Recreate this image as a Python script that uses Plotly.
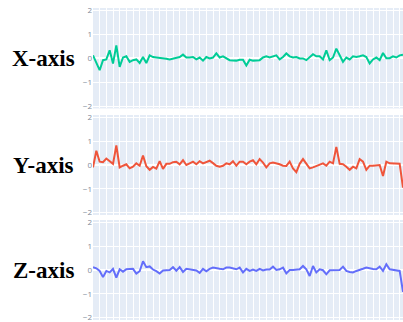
import plotly.graph_objects as go

x_vals = list(range(94))

x_axis_values = [0.12, -0.22, -0.5, -0.08, -0.05, 0.33, -0.22, 0.54, -0.36, 0.03,
                 0.08, -0.15, -0.08, -0.05, -0.2, 0.05, -0.2, 0.12, 0.05, 0.03,
                 0.02, 0.0, -0.02, -0.05, -0.02, 0.0, 0.05, 0.15, 0.03, 0.03,
                 0.05, -0.05, 0.03, -0.1, 0.05, -0.01, 0.03, 0.2, 0.03, 0.08,
                 -0.01, -0.08, -0.09, -0.1, -0.06, -0.06, -0.3, -0.06, -0.1, -0.1,
                 -0.08, 0.03, 0.08, 0.03, 0.08, 0.12, -0.05, 0.05, 0.2, 0.08,
                 0.03, 0.05, -0.01, -0.01, -0.08, 0.03, 0.17, 0.08, 0.08, -0.05,
                 0.33, -0.08, 0.03, 0.4, 0.12, -0.15, 0.03, -0.05, 0.08, 0.05,
                 0.08, 0.12, 0.05, -0.22, -0.05, 0.03, -0.08, 0.22, 0.0, 0.0,
                 0.08, 0.03, 0.12, 0.15]

y_axis_values = [-0.1, 0.6, 0.14, 0.12, 0.27, 0.14, 0.05, 0.82, -0.1, -0.03,
                 0.03, -0.14, -0.07, 0.07, -0.03, 0.4, -0.05, -0.2, -0.08, -0.15,
                 0.16, -0.16, 0.05, 0.05, 0.12, 0.14, 0.03, 0.2, 0.0, 0.07,
                 0.14, 0.03, 0.16, 0.07, 0.12, 0.18, 0.08, -0.03, -0.07, -0.03,
                 0.07, 0.03, 0.16, -0.03, 0.14, 0.14, 0.03, 0.14, 0.2, 0.03,
                 0.25, 0.1, -0.1, 0.07, 0.1, 0.07, 0.03, -0.03, -0.04, 0.14,
                 -0.14, -0.3, 0.05, 0.25, 0.05, -0.14, -0.1, -0.05, 0.0, 0.07,
                 -0.03, 0.14, 0.07, 0.76, 0.05, 0.03, -0.07, -0.2, -0.07, -0.14,
                 0.25, 0.14, -0.2, -0.03, -0.03, -0.03, 0.0, -0.46, 0.14, 0.07,
                 0.07, 0.07, 0.05, -0.95]

z_axis_values = [0.12, 0.07, -0.04, -0.3, -0.04, -0.1, 0.05, -0.32, 0.03, -0.07,
                 0.03, 0.03, 0.05, -0.15, -0.05, 0.37, 0.12, 0.15, 0.02, -0.05,
                 -0.15, -0.02, -0.01, 0.0, 0.12, -0.03, 0.12, -0.08, 0.05, 0.02,
                 0.0, -0.02, -0.12, 0.05, -0.05, 0.05, 0.1, 0.06, 0.05, 0.03,
                 0.1, 0.1, 0.05, 0.03, 0.1, -0.1, 0.05, -0.04, 0.02, -0.04,
                 0.05, -0.02, 0.02, 0.02, 0.14, 0.0, 0.03, 0.1, -0.14, 0.0,
                 0.0, 0.02, 0.03, 0.17, 0.03, -0.25, 0.17, -0.1, 0.03, -0.01,
                 -0.18, -0.01, 0.0, 0.0, 0.0, 0.14, -0.04, -0.08, -0.1, -0.04,
                 0.02, 0.05, 0.1, 0.06, 0.04, 0.03, 0.14, -0.04, 0.24, 0.03,
                 0.0, -0.02, -0.04, -0.92]

tick_values = [-2, -1, 0, 1, 2]

labels = ["X-axis", "Y-axis", "Z-axis"]
colors = ["#00CC96", "#EF553B", "#636EFA"]
series = [x_axis_values, y_axis_values, z_axis_values]

domains = [[0.678, 1.0], [0.3365, 0.657], [0.0, 0.3205]]

fig = go.Figure()
for k in range(3):
    suffix = "" if k == 0 else str(k + 1)
    fig.add_trace(go.Scatter(x=x_vals, y=series[k], mode="lines",
                             line=dict(color=colors[k], width=2),
                             xaxis="x" + suffix, yaxis="y" + suffix,
                             showlegend=False))
    fig.update_layout(**{
        "xaxis" + suffix: dict(domain=[0, 1], anchor="y" + suffix, dtick=2,
                               showticklabels=False, zeroline=False,
                               automargin=False,
                               gridcolor="white", gridwidth=1),
        "yaxis" + suffix: dict(domain=domains[k], anchor="x" + suffix,
                               range=[-2.1, 2.1],
                               tickmode="array", tickvals=tick_values,
                               automargin=False, ticklabeloverflow="allow",
                               tickfont=dict(size=8, color="#7f8a9a"),
                               zeroline=True, zerolinecolor="white",
                               zerolinewidth=2, gridcolor="white"),
    })
    fig.add_annotation(text="<b>%s</b>" % labels[k], x=-0.161, xref="paper",
                       y=0.5, yref="y%s domain" % suffix, showarrow=False,
                       xanchor="center", yanchor="middle",
                       font=dict(family="Liberation Serif", size=23, color="black"))

fig.update_layout(width=403, height=322, template="plotly",
                  margin=dict(l=93, r=0, t=8, b=2),
                  plot_bgcolor="#E5ECF6", paper_bgcolor="white")

fig.write_html("out.html", config={"displayModeBar": False},
               post_script="document.body.style.margin='0';document.body.style.overflow='hidden';")
